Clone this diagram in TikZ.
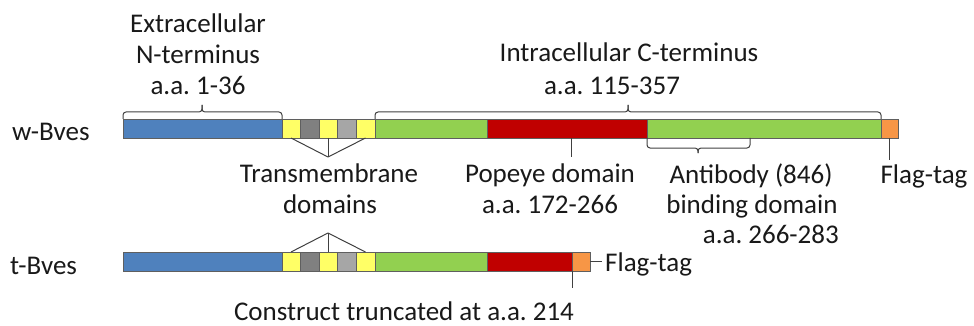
\documentclass[tikz,border=0pt]{standalone}
\usepackage{fontspec}
\setmainfont{Carlito}
\frenchspacing
\definecolor{cblue}{HTML}{4F81BD}
\definecolor{cyel}{HTML}{FFFF66}
\definecolor{cdgray}{HTML}{808080}
\definecolor{clgray}{HTML}{A6A6A6}
\definecolor{cgreen}{HTML}{92D050}
\definecolor{cred}{HTML}{C00000}
\definecolor{corange}{HTML}{F79646}
\definecolor{cline}{HTML}{404040}
\definecolor{cedge}{HTML}{5F5F5F}
\newcommand\mkseg[5]{\node[segbox, fill=#4, minimum width={(#3-#2)*1pt}, anchor=north west] (#1) at (#2,#5) {};}
\begin{document}
\begin{tikzpicture}[x=1pt,y=-1pt,
  segbox/.style={draw=cedge, line width=0.8pt, inner sep=0pt, outer sep=0pt, minimum height=19pt, rectangle},
  conn/.style={draw=cline, line width=1pt},
  bracket/.style={draw=cline, line width=1pt, rounded corners=3pt},
  lbl/.style={anchor=base, inner sep=0pt, text=black!90, font=\fontsize{27}{31}\selectfont\frenchspacing}]
\useasboundingbox (0,0) rectangle (974,326);
% ---------- w-Bves ----------
\mkseg{wbl}{123}{282}{cblue}{119}
\mkseg{wy1}{282}{300}{cyel}{119}
\mkseg{wg1}{300}{319}{cdgray}{119}
\mkseg{wy2}{319}{337}{cyel}{119}
\mkseg{wg2}{337}{356}{clgray}{119}
\mkseg{wy3}{356}{375}{cyel}{119}
\mkseg{wgr1}{375}{487}{cgreen}{119}
\mkseg{wred}{487}{647}{cred}{119}
\mkseg{wgr2}{647}{881}{cgreen}{119}
\mkseg{wfl}{881}{898}{corange}{119}
% ---------- t-Bves ----------
\mkseg{tbl}{123}{282}{cblue}{252}
\mkseg{ty1}{282}{300}{cyel}{252}
\mkseg{tg1}{300}{319}{cdgray}{252}
\mkseg{ty2}{319}{337}{cyel}{252}
\mkseg{tg2}{337}{356}{clgray}{252}
\mkseg{ty3}{356}{375}{cyel}{252}
\mkseg{tgr1}{375}{487}{cgreen}{252}
\mkseg{tred}{487}{572}{cred}{252}
\mkseg{tfl}{572}{590}{corange}{252}
% ---------- row labels ----------
\node[lbl, anchor=base west] (lw) at (12,140) {w-Bves};
\node[lbl, anchor=base west] (lt) at (10,274) {t-Bves};
% ---------- top braces ----------
\coordinate (ntick) at (202,105);
\coordinate (ctick) at (628,105);
\draw[bracket] (wbl.north west) -- ++(0,-7) -| (ntick);
\draw[bracket] (wbl.north east) -- ++(0,-7) -| (ntick);
\draw[bracket] (wgr1.north west) -- ++(0,-7) -| (ctick);
\draw[bracket] (wgr2.north east) -- ++(0,-7) -| (ctick);
% ---------- antibody brace ----------
\coordinate (abtick) at (698,153);
\draw[bracket] (wgr2.south west) -- ++(0,10) -| (abtick);
\draw[bracket] (wgr2.south west) ++(103,0) coordinate (abend) -- ++(0,10) -| (abtick);
% ---------- TM connectors ----------
\coordinate (tmw) at (328,157);
\draw[conn] (wy1.south) -- (tmw);
\draw[conn] (wy2.south) -- (tmw);
\draw[conn] (wy3.south) -- (tmw);
\coordinate (tmt) at (328,233);
\draw[conn] (ty1.north) -- (tmt);
\draw[conn] (ty2.north) -- (tmt);
\draw[conn] (ty3.north) -- (tmt);
% ---------- ticks ----------
\coordinate (popt) at (571,157);
\draw[conn] (popt |- wred.south) -- (popt);
\coordinate (flt) at (889.5,160);
\draw[conn] (wfl.south) -- (flt);
\coordinate (trt) at (572,288);
\draw[conn] (tred.south east) -- (trt);
\coordinate (tflt) at (602,261.5);
\draw[conn] (tfl.east) -- (tflt);
% ---------- texts ----------
\node[lbl] (t1) at (198,33) {Extracellular};
\node[lbl] (t2) at (198,64) {N-terminus};
\node[lbl] (t3) at (198,95) {a.a. 1-36};
\node[lbl] (t4) at (629,62) {Intracellular C-terminus};
\node[lbl] (t5) at (612,95) {a.a. 115-357};
\node[lbl] (t6) at (329,182) {Transmembrane};
\node[lbl] (t7) at (330,213) {domains};
\node[lbl] (t8) at (550,182) {Popeye domain};
\node[lbl] (t9) at (550,213) {a.a. 172-266};
\node[lbl] (t10) at (751,183) {Antibody (846)};
\node[lbl] (t11) at (752,213) {binding domain};
\node[lbl, anchor=base east] (t12) at (839,243) {a.a. 266-283};
\node[lbl] (t13) at (924,183) {Flag-tag};
\node[lbl, anchor=base west] (t14) at (605,271) {Flag-tag};
\node[lbl] (t15) at (404,320) {Construct truncated at a.a. 214};
\end{tikzpicture}
\end{document}
